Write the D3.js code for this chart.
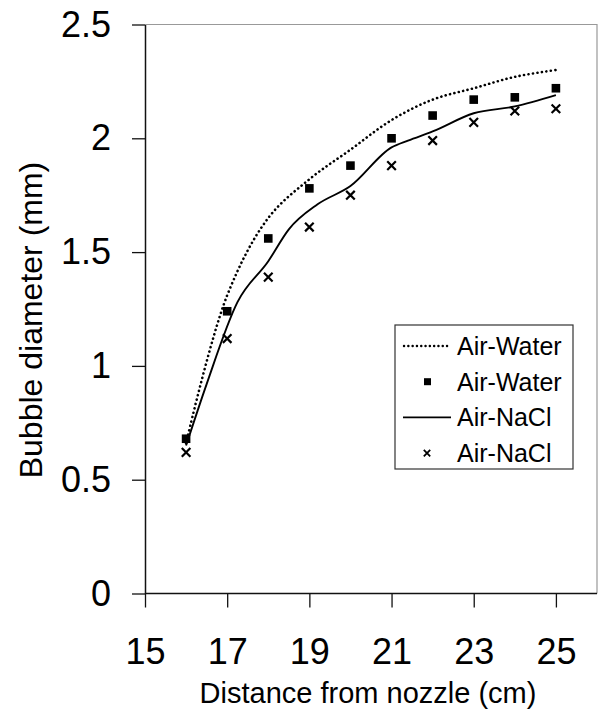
<!DOCTYPE html>
<html>
<head>
<meta charset="utf-8">
<script src="https://cdn.jsdelivr.net/npm/d3@7"></script>
<style>
  body { margin: 0; background: #fff; }
  svg { font-family: "Liberation Sans", Arial, sans-serif; }
</style>
</head>
<body>
<div id="chart"></div>
<script>
// measured points
var distance = [16, 17, 18, 19, 20, 21, 22, 23, 24, 25];
var waterPoints = [0.68, 1.24, 1.56, 1.78, 1.88, 2.00, 2.10, 2.17, 2.18, 2.22];
var naclPoints = [0.62, 1.12, 1.39, 1.61, 1.75, 1.88, 1.99, 2.07, 2.12, 2.13];

// model curves
var waterLineX = [16, 17, 18, 19, 20, 21, 22, 23, 24, 25];
var waterLineY = [0.66, 1.31, 1.65, 1.82, 1.95, 2.08, 2.17, 2.22, 2.27, 2.30];
var naclLineX = [16, 16.5, 17.25, 18, 18.5, 19.2, 20, 21, 21.4, 22, 23, 24, 25];
var naclLineY = [0.65, 0.92, 1.28, 1.46, 1.60, 1.71, 1.79, 1.96, 1.99, 2.03, 2.11, 2.14, 2.19];

var xTicks = [15, 17, 19, 21, 23, 25];
var yTicks = [0, 0.5, 1, 1.5, 2, 2.5];

var width = 600, height = 711;
var plotLeft = 145, plotRight = 597, plotTop = 24.5, plotBottom = 593.5;

var svg = d3.select("#chart")
    .append("svg")
    .attr("width", width)
    .attr("height", height);

var x = d3.scaleLinear().domain([15, 26]).range([plotLeft, plotRight]);
var y = d3.scaleLinear().domain([0, 2.5]).range([plotBottom, plotTop]);

// plot frame (top and right, light)
svg.append("path")
    .attr("d", "M" + plotLeft + "," + plotTop + "H" + plotRight + "V" + plotBottom)
    .attr("fill", "none")
    .attr("stroke", "#999")
    .attr("stroke-width", 1.2);

// X axis
var xAxis = svg.append("g")
    .attr("transform", "translate(0," + plotBottom + ")")
    .call(d3.axisBottom(x).tickValues(xTicks).tickSize(14).tickSizeOuter(0).tickPadding(31)
        .tickFormat(d3.format("d")));
xAxis.select(".domain").attr("stroke", "#111").attr("stroke-width", 1.5)
    .attr("d", "M" + plotLeft + ",0H" + plotRight);
xAxis.selectAll(".tick line").attr("stroke", "#111").attr("stroke-width", 1.3);
xAxis.selectAll(".tick text")
    .style("font-size", "36px")
    .style("font-family", "'Liberation Sans', Arial, sans-serif")
    .attr("fill", "#000")
    .attr("dy", "0.71em");

// Y axis
var yAxis = svg.append("g")
    .attr("transform", "translate(" + plotLeft + ",0)")
    .call(d3.axisLeft(y).tickValues(yTicks).tickSize(13).tickSizeOuter(0).tickPadding(21)
        .tickFormat(function(d) { return d === 0 ? "0" : d3.format("")(d); }));
yAxis.select(".domain").attr("stroke", "#111").attr("stroke-width", 1.5);
yAxis.selectAll(".tick line").attr("stroke", "#111").attr("stroke-width", 1.3);
yAxis.selectAll(".tick text")
    .style("font-size", "36px")
    .style("font-family", "'Liberation Sans', Arial, sans-serif")
    .attr("fill", "#000");

// axis titles
svg.append("text")
    .attr("x", 368)
    .attr("y", 703)
    .attr("text-anchor", "middle")
    .style("font-size", "29px")
    .text("Distance from nozzle (cm)");

svg.append("text")
    .attr("transform", "translate(42,320) rotate(-90)")
    .attr("text-anchor", "middle")
    .style("font-size", "32px")
    .text("Bubble diameter (mm)");

// lines
var line = d3.line()
    .x(function(d) { return x(d[0]); })
    .y(function(d) { return y(d[1]); });

svg.append("path")
    .datum(d3.zip(waterLineX, waterLineY))
    .attr("d", line.curve(d3.curveCatmullRom))
    .attr("fill", "none")
    .attr("stroke", "#000")
    .attr("stroke-width", 2.6)
    .attr("stroke-linecap", "round")
    .attr("stroke-dasharray", "0.1,4.4");

svg.append("path")
    .datum(d3.zip(naclLineX, naclLineY))
    .attr("d", line.curve(d3.curveMonotoneX))
    .attr("fill", "none")
    .attr("stroke", "#000")
    .attr("stroke-width", 1.9);

// markers
svg.selectAll(".sq")
    .data(d3.zip(distance, waterPoints))
    .enter()
    .append("rect")
    .attr("x", function(d) { return x(d[0]) - 4.3; })
    .attr("y", function(d) { return y(d[1]) - 4.3; })
    .attr("width", 8.6)
    .attr("height", 8.6)
    .attr("fill", "#000");

svg.selectAll(".cx")
    .data(d3.zip(distance, naclPoints))
    .enter()
    .append("path")
    .attr("d", "M-4.3,-4.3L4.3,4.3M-4.3,4.3L4.3,-4.3")
    .attr("transform", function(d) { return "translate(" + x(d[0]) + "," + y(d[1]) + ")"; })
    .attr("stroke", "#000")
    .attr("stroke-width", 2.2)
    .attr("fill", "none");

// legend
var legendNames = ["Air-Water", "Air-Water", "Air-NaCl", "Air-NaCl"];
var legendKinds = ["dot", "square", "solid", "cross"];
var lg = svg.append("g");
lg.append("rect")
    .attr("x", 395).attr("y", 325)
    .attr("width", 178).attr("height", 144)
    .attr("fill", "#fff")
    .attr("stroke", "#333")
    .attr("stroke-width", 1.2);

legendNames.forEach(function(name, i) {
    var cy = 346 + i * 35.7;
    var kind = legendKinds[i];
    if (kind === "dot") {
        lg.append("line")
            .attr("x1", 404).attr("x2", 451)
            .attr("y1", cy).attr("y2", cy)
            .attr("stroke", "#000")
            .attr("stroke-width", 2.4)
            .attr("stroke-linecap", "round")
            .attr("stroke-dasharray", "0.1,4.2");
    } else if (kind === "solid") {
        lg.append("line")
            .attr("x1", 403).attr("x2", 451)
            .attr("y1", cy).attr("y2", cy)
            .attr("stroke", "#000")
            .attr("stroke-width", 1.6);
    } else if (kind === "square") {
        lg.append("rect")
            .attr("x", 424).attr("y", cy - 3.5)
            .attr("width", 7).attr("height", 7)
            .attr("fill", "#000");
    } else {
        lg.append("path")
            .attr("d", "M-3.2,-3.2L3.2,3.2M-3.2,3.2L3.2,-3.2")
            .attr("transform", "translate(427," + cy + ")")
            .attr("stroke", "#000")
            .attr("stroke-width", 1.8);
    }
    lg.append("text")
        .attr("x", 457)
        .attr("y", cy)
        .attr("dy", "0.36em")
        .style("font-size", "25px")
        .text(name);
});
</script>
</body>
</html>
